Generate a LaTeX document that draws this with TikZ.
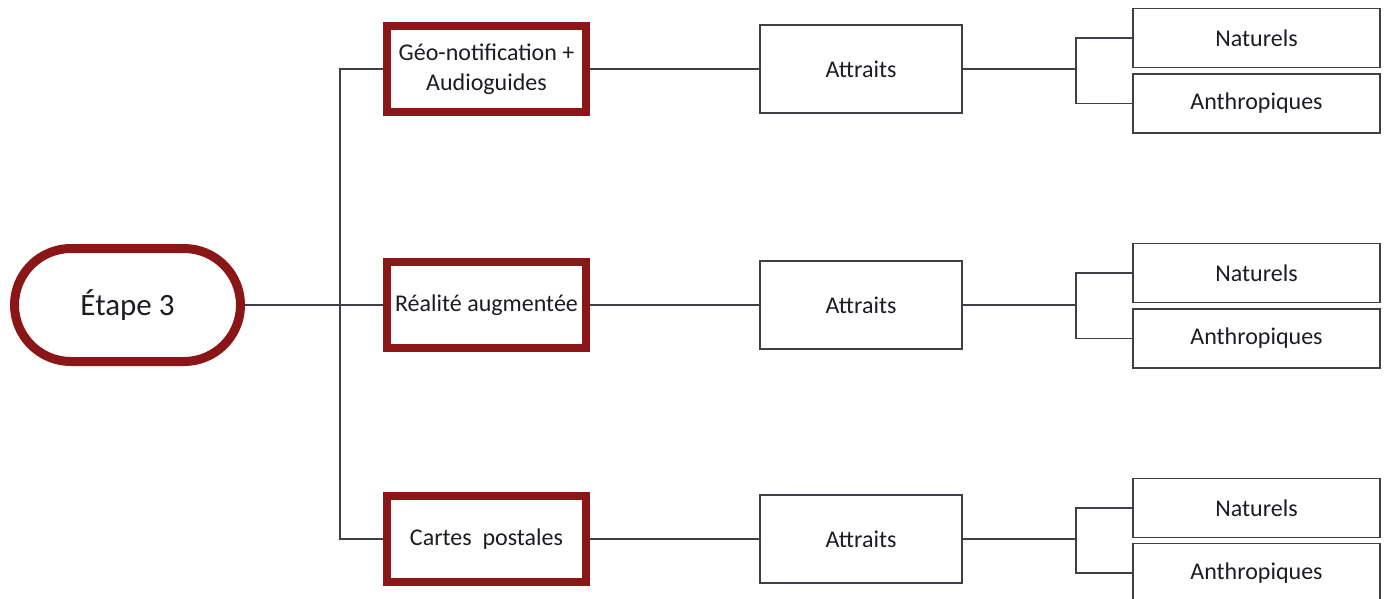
\documentclass[tikz,border=0pt]{standalone}
\usepackage{fontspec}
\setmainfont{Carlito}
\usetikzlibrary{shapes.misc}
\definecolor{stagered}{RGB}{139,22,24}
\definecolor{linkgray}{RGB}{62,64,72}
\definecolor{inkgray}{RGB}{28,28,34}
\begin{document}
\begin{tikzpicture}[x=1pt,y=-1pt,
  every node/.style={text=inkgray,font=\fontsize{24}{30}\selectfont,align=center,inner sep=0pt},
  stagebox/.style={draw=stagered,line width=9pt,rounded rectangle,
    minimum width=226pt,minimum height=113pt,font=\fontsize{31}{36}\selectfont},
  toolbox/.style={draw=stagered,line width=8pt,fill=white,minimum width=199pt,minimum height=86pt},
  attrbox/.style={draw=linkgray,line width=1.3pt,fill=white,minimum width=202pt,minimum height=88pt},
  kindbox/.style={draw=linkgray,line width=1.3pt,fill=white,minimum width=247pt,minimum height=59pt},
  link/.style={draw=linkgray,line width=1.3pt}]
\useasboundingbox (0,0) rectangle (1387,598);

% root of the tree
\node[stagebox] (e) at (127.5,305) {Étape 3};

% media used at this step
\node[toolbox] (g1) at (486.5,69)  {Géo-notification +\\Audioguides};
\node[toolbox] (g2) at (486.5,305) {Réalité augmentée};
\node[toolbox] (g3) at (486.5,539) {Cartes\ \ postales};

% attractions per medium
\node[attrbox] (a1) at (861,69)  {Attraits};
\node[attrbox] (a2) at (861,305) {Attraits};
\node[attrbox] (a3) at (861,539) {Attraits};

% kinds of attractions
\node[kindbox] (n1) at (1256.5,38)  {Naturels};
\node[kindbox] (h1) at (1256.5,103.5) {Anthropiques};
\node[kindbox] (n2) at (1256.5,273) {Naturels};
\node[kindbox] (h2) at (1256.5,338.5) {Anthropiques};
\node[kindbox] (n3) at (1256.5,508) {Naturels};
\node[kindbox] (h3) at (1256.5,573) {Anthropiques};

% trunk from the root to the three media
\coordinate (tr) at (340,305);
\coordinate (f1) at (1076,69);
\coordinate (f2) at (1076,305);
\coordinate (f3) at (1076,539);

\path[link] (e.east) -- (tr);
\path[link] (g1.west) -- (g1.west -| tr) -- (g3.west -| tr) -- (g3.west);
\path[link] (tr) -- (g2.west);

% media to attractions
\path[link] (g1.east) -- (a1.west);
\path[link] (g2.east) -- (a2.west);
\path[link] (g3.east) -- (a3.west);

% attractions forking into natural / man-made
\path[link] (a1.east) -- (f1);
\path[link] (n1.west) -- (n1.west -| f1) -- (h1.west -| f1) -- (h1.west);
\path[link] (a2.east) -- (f2);
\path[link] (n2.west) -- (n2.west -| f2) -- (h2.west -| f2) -- (h2.west);
\path[link] (a3.east) -- (f3);
\path[link] (n3.west) -- (n3.west -| f3) -- (h3.west -| f3) -- (h3.west);
\end{tikzpicture}
\end{document}
